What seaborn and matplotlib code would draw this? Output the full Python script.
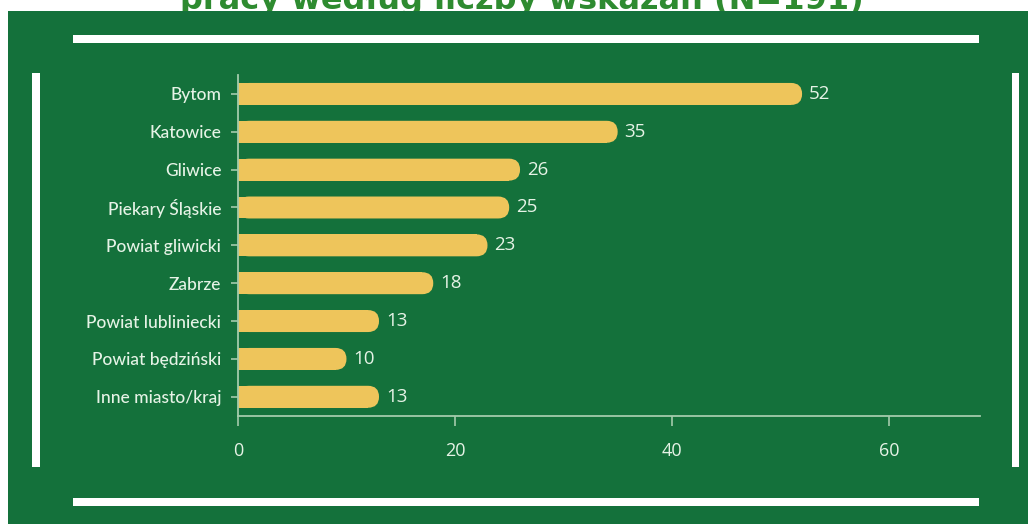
import matplotlib
matplotlib.use("Agg")
import matplotlib.pyplot as plt
import seaborn as sns
import pandas as pd
from matplotlib.patches import Rectangle, FancyBboxPatch

categories = ["Bytom", "Katowice", "Gliwice", "Piekary Śląskie", "Powiat gliwicki",
              "Zabrze", "Powiat lubliniecki", "Powiat będziński", "Inne miasto/kraj"]
values = [52, 35, 26, 25, 23, 18, 13, 10, 13]
xticks = [0, 20, 40, 60]
title = "pracy według liczby wskazań (N=191)"

GREEN = "#14713B"
BAR = "#EEC55B"
TEXT = "#E6F3E6"
SPINE = "#A3CBAB"
TITLE = "#2E8B30"

sns.set_theme(style="white")
plt.rcParams['font.family'] = ['Lato', 'DejaVu Sans']

W, H = 1028, 524
fig = plt.figure(figsize=(W / 100, H / 100), dpi=100, facecolor='white')


def frect(x0, y0, x1, y1, **kw):
    r = Rectangle((x0 / W, 1 - y1 / H), (x1 - x0) / W, (y1 - y0) / H,
                  transform=fig.transFigure, **kw)
    fig.add_artist(r)
    return r


# title (partly hidden under the green panel, as in the source page)
fig.text(522 / W, 1 - 9.5 / H, title, ha='center', va='baseline', fontsize=23,
         fontweight='bold', color=TITLE, family='DejaVu Sans', zorder=-3)
# green panel
frect(8, 10.5, W + 5, H + 5, fc=GREEN, ec='none', zorder=-2)
# white frame lines
frect(73, 35, 979, 43, fc='white', ec='none', zorder=-1)
frect(73, 498, 979, 506, fc='white', ec='none', zorder=-1)
frect(32, 73, 40, 467, fc='white', ec='none', zorder=-1)
frect(1012, 73, 1019, 467, fc='white', ec='none', zorder=-1)

ax_l, ax_r, ax_t, ax_b = 238, 980, 75, 415.7
ax = fig.add_axes([ax_l / W, 1 - ax_b / H, (ax_r - ax_l) / W, (ax_b - ax_t) / H])
ax.set_facecolor('none')

df = pd.DataFrame({'miasto': categories, 'liczba': values})
sns.barplot(data=df, y='miasto', x='liczba', color=BAR, width=0.58, saturation=1,
            orient='h', linewidth=0, edgecolor='none', ax=ax)

xmax = 68.4
ax.set_xlim(0, xmax)
ax.set_ylim(len(categories) - 0.5, -0.5)
ax.set_xticks(xticks)
ax.set_xlabel('')
ax.set_ylabel('')

lbls = ax.bar_label(ax.containers[0], labels=[str(v) for v in values], padding=5,
                    color=TEXT, fontsize=13.5, family=['Open Sans', 'DejaVu Sans'])
for t in lbls:
    t.set_va('center')

# rounded right ends
xdpp = xmax / (ax_r - ax_l)
ydpp = len(categories) / (ax_b - ax_t)
m = ydpp / xdpp
for p in list(ax.patches):
    x0, y0, w, h = p.get_x(), p.get_y(), p.get_width(), p.get_height()
    r_x = (h / ydpp) / 2 * xdpp
    p.set_width(max(w - r_x, 0))
    p.set_linewidth(0)
    fb = FancyBboxPatch((x0, y0), w, h, boxstyle=f"round,pad=0,rounding_size={r_x}",
                        mutation_aspect=m, fc=BAR, ec='none', lw=0, zorder=p.get_zorder())
    ax.add_patch(fb)

for s in ['top', 'right']:
    ax.spines[s].set_visible(False)
for s in ['left', 'bottom']:
    ax.spines[s].set_color(SPINE)
    ax.spines[s].set_linewidth(1.3)

ax.tick_params(axis='y', left=True, length=5, width=1.2, color=SPINE, labelcolor=TEXT,
               labelsize=12.5, pad=7)
ax.tick_params(axis='x', bottom=True, length=7, width=1.2, color=SPINE, labelcolor=TEXT,
               labelsize=13, pad=12)
for lab in ax.get_yticklabels():
    lab.set_fontweight('medium')
for lab in ax.get_xticklabels():
    lab.set_family(['Open Sans', 'DejaVu Sans'])

fig.savefig("out.png", dpi=100, facecolor='white')
